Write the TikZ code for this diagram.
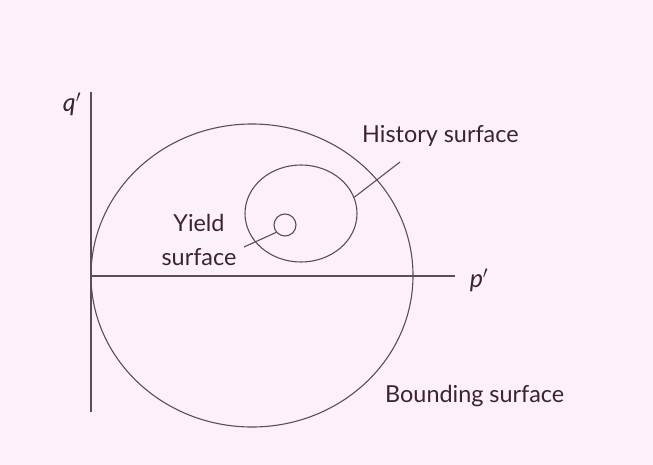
\documentclass[tikz,border=0pt]{standalone}
\usepackage{fontspec}
\setmainfont{Lato}
\usetikzlibrary{shapes.geometric}
\definecolor{bgpink}{RGB}{252,241,251}
\definecolor{inkline}{RGB}{95,75,90}
\definecolor{inktext}{RGB}{60,35,50}
\begin{document}
\begin{tikzpicture}[x=1pt,y=-1pt,
  curve/.style={draw=inkline,line width=1.1pt},
  surf/.style={ellipse,curve,inner sep=0pt},
  lbl/.style={text=inktext,font=\fontsize{23.4}{33}\selectfont,inner sep=0pt},
  axlbl/.style={text=inktext,font=\fontsize{25}{28}\selectfont\itshape,inner sep=0pt}]
\fill[bgpink] (0,0) rectangle (653,465);
\useasboundingbox (0,0) rectangle (653,465);
% axes
\coordinate (qtop) at (91,92);
\coordinate (qbot) at (91,412);
\coordinate (orig) at (91,276);
\coordinate (pend) at (455,276);
\draw[curve] (qtop) -- (qbot);
\draw[curve] (orig) -- (pend);
% surfaces
\node[surf,minimum width=322pt,minimum height=303pt] (bound) at (252,275.5) {};
\node[surf,minimum width=112pt,minimum height=97pt] (hist) at (301,213.5) {};
\node[surf,minimum width=22pt,minimum height=22pt] (yield) at (285,225) {};
% labels
\node[axlbl] (qlab) at (72,104) {q$'$};
\node[axlbl] (plab) at (479,280) {p$'$};
\node[lbl,anchor=base west] (histlab) at (362,143) {History surface};
\node[lbl,align=center,anchor=base] (yieldlab) at (199,265) {Yield\\surface};
\node[lbl,anchor=base west] (boundlab) at (385,402) {Bounding surface};
% leader lines
\coordinate (histend) at (400,162);
\coordinate (yieldend) at (244,247);
\draw[curve] (hist.17) -- (histend);
\draw[curve] (yield.220) -- (yieldend);
\end{tikzpicture}
\end{document}
